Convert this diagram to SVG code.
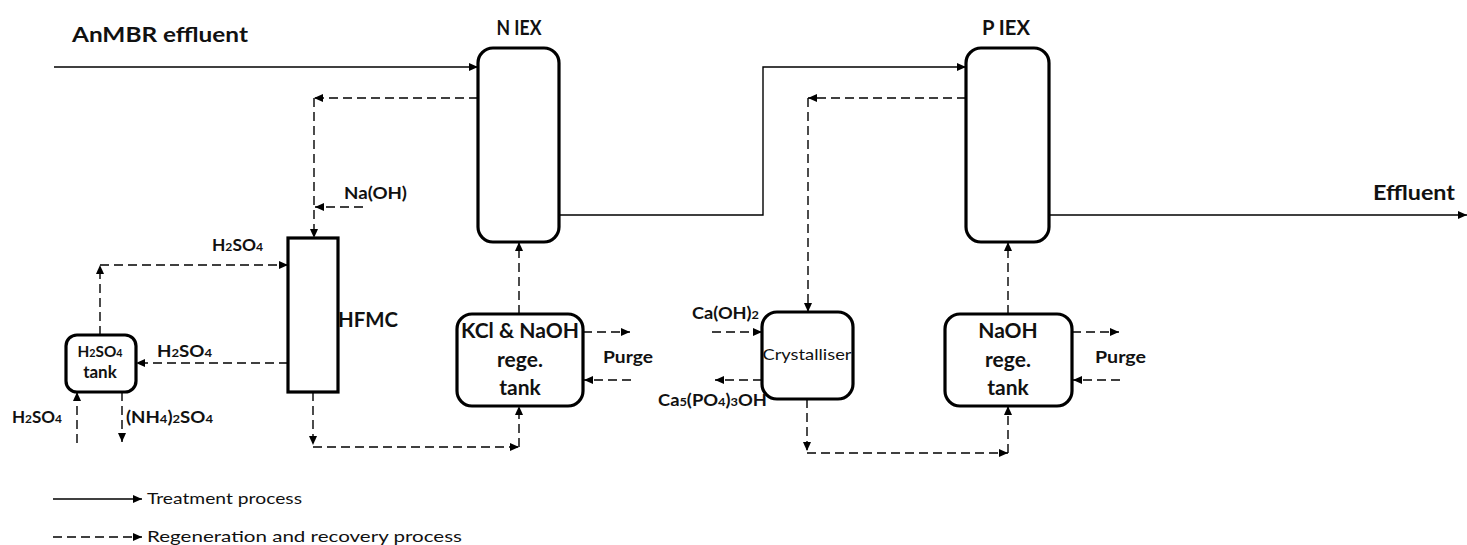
<svg xmlns="http://www.w3.org/2000/svg" width="1467" height="545" viewBox="0 0 1467 545">
<defs>
<marker id="ah" markerWidth="9" markerHeight="8" refX="9" refY="4" orient="auto" markerUnits="userSpaceOnUse">
<path d="M0,0 L9,4 L0,8 z" fill="#000"/>
</marker>
<style>
.box{fill:#fff;stroke:#000;stroke-width:3.2}
.solid{fill:none;stroke:#000;stroke-width:1.4;marker-end:url(#ah)}
.dash{fill:none;stroke:#000;stroke-width:1.4;stroke-dasharray:9 5;marker-end:url(#ah)}
.t{font-family:Lato,"Liberation Sans",sans-serif;font-weight:bold;fill:#111}
.r{font-family:Lato,"Liberation Sans",sans-serif;font-weight:normal;fill:#111}
.s{font-size:70%}
</style>
</defs>
<rect width="1467" height="545" fill="#fff"/>

<g id="connectors">
<path class="solid" d="M54,67 H478"/>
<path class="solid" d="M559,215 H763 V67 H966"/>
<path class="solid" d="M1049,215 H1467"/>
<path class="dash" d="M478,98 H314"/>
<path class="dash" d="M314,98 V238"/>
<path class="dash" d="M363,207 H315"/>
<path class="dash" d="M100,335 V265"/>
<path class="dash" d="M100,265 H288"/>
<path class="dash" d="M288,363 H136"/>
<path class="dash" d="M77,443 V392"/>
<path class="dash" d="M122,392 V442"/>
<path class="dash" d="M313,392 V445"/>
<path class="dash" d="M313,447 H519"/>
<path class="dash" d="M519,447 V406"/>
<path class="dash" d="M519,314 V242"/>
<path class="dash" d="M583,332 H630"/>
<path class="dash" d="M631,380 H584"/>
<path class="dash" d="M966,98 H808"/>
<path class="dash" d="M808,98 V312"/>
<path class="dash" d="M712,332 H762"/>
<path class="dash" d="M762,380 H715"/>
<path class="dash" d="M807,399 V451"/>
<path class="dash" d="M807,453 H1008"/>
<path class="dash" d="M1008,453 V406"/>
<path class="dash" d="M1008,314 V242"/>
<path class="dash" d="M1072,332 H1119"/>
<path class="dash" d="M1120,380 H1073"/>
<path class="solid" d="M53,499 H142"/>
<path class="dash" d="M53,537 H142"/>
</g>

<g id="niex">
<rect class="box" x="478" y="48" width="81" height="194" rx="15"/>
<text class="t" x="519" y="35" font-size="20" text-anchor="middle" textLength="45" lengthAdjust="spacingAndGlyphs">N IEX</text>
</g>
<g id="piex">
<rect class="box" x="966" y="48" width="83" height="194" rx="15"/>
<text class="t" x="1006" y="35" font-size="20" text-anchor="middle" textLength="48" lengthAdjust="spacingAndGlyphs">P IEX</text>
</g>
<g id="hfmc">
<rect class="box" x="288" y="238" width="50" height="154"/>
<text class="t" x="338" y="327" font-size="21" textLength="60" lengthAdjust="spacingAndGlyphs">HFMC</text>
</g>
<g id="h2so4tank">
<rect class="box" x="66" y="335" width="70" height="57" rx="11"/>
<text class="t" x="100" y="357" font-size="15" text-anchor="middle" textLength="45" lengthAdjust="spacingAndGlyphs">H<tspan class="s">2</tspan>SO<tspan class="s">4</tspan></text>
<text class="t" x="100" y="378" font-size="17" text-anchor="middle">tank</text>
</g>
<g id="kcltank">
<rect class="box" x="457" y="314" width="126" height="92" rx="15"/>
<text class="t" x="520" y="338" font-size="21" text-anchor="middle" textLength="118" lengthAdjust="spacingAndGlyphs">KCl &amp; NaOH</text>
<text class="t" x="520" y="367" font-size="21" text-anchor="middle">rege.</text>
<text class="t" x="520" y="395" font-size="21" text-anchor="middle">tank</text>
</g>
<g id="crystalliser">
<rect class="box" x="762" y="312" width="91" height="87" rx="15"/>
<text class="r" x="807" y="360" font-size="15" text-anchor="middle" textLength="89" lengthAdjust="spacingAndGlyphs">Crystalliser</text>
</g>
<g id="naohtank">
<rect class="box" x="945" y="314" width="127" height="92" rx="15"/>
<text class="t" x="1008" y="338" font-size="21" text-anchor="middle">NaOH</text>
<text class="t" x="1008" y="367" font-size="21" text-anchor="middle">rege.</text>
<text class="t" x="1008" y="395" font-size="21" text-anchor="middle">tank</text>
</g>

<g id="labels">
<text class="t" x="72" y="42" font-size="21" textLength="176" lengthAdjust="spacingAndGlyphs">AnMBR effluent</text>
<text class="t" x="1373" y="200" font-size="21" textLength="82" lengthAdjust="spacingAndGlyphs">Effluent</text>
<text class="t" x="344" y="199" font-size="17" textLength="63" lengthAdjust="spacingAndGlyphs">Na(OH)</text>
<text class="t" x="212" y="251" font-size="17" textLength="51" lengthAdjust="spacingAndGlyphs">H<tspan class="s">2</tspan>SO<tspan class="s">4</tspan></text>
<text class="t" x="157" y="357" font-size="17" textLength="55" lengthAdjust="spacingAndGlyphs">H<tspan class="s">2</tspan>SO<tspan class="s">4</tspan></text>
<text class="t" x="12" y="423" font-size="17" textLength="50" lengthAdjust="spacingAndGlyphs">H<tspan class="s">2</tspan>SO<tspan class="s">4</tspan></text>
<text class="t" x="126" y="423" font-size="17" textLength="87" lengthAdjust="spacingAndGlyphs">(NH<tspan class="s">4</tspan>)<tspan class="s">2</tspan>SO<tspan class="s">4</tspan></text>
<text class="t" x="603" y="363" font-size="17" textLength="50" lengthAdjust="spacingAndGlyphs">Purge</text>
<text class="t" x="1095" y="363" font-size="17" textLength="51" lengthAdjust="spacingAndGlyphs">Purge</text>
<text class="t" x="692" y="319" font-size="17" textLength="67" lengthAdjust="spacingAndGlyphs">Ca(OH)<tspan class="s">2</tspan></text>
<text class="t" x="658" y="406" font-size="17" textLength="109" lengthAdjust="spacingAndGlyphs">Ca<tspan class="s">5</tspan>(PO<tspan class="s">4</tspan>)<tspan class="s">3</tspan>OH</text>
</g>

<g id="legend">
<text class="r" x="147" y="504" font-size="15" textLength="155" lengthAdjust="spacingAndGlyphs">Treatment process</text>
<text class="r" x="147" y="542" font-size="15" textLength="315" lengthAdjust="spacingAndGlyphs">Regeneration and recovery process</text>
</g>
</svg>
